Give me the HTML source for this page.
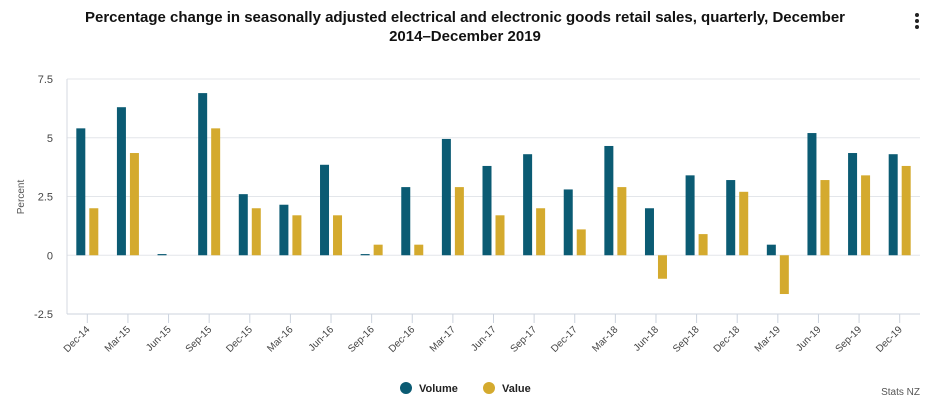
<!DOCTYPE html>
<html><head><meta charset="utf-8"><style>
body{margin:0;background:#fff;font-family:"Liberation Sans",sans-serif;}
#wrap{position:relative;width:930px;height:400px;overflow:hidden;}
.title{position:absolute;left:0;top:8px;width:930px;text-align:center;font-weight:bold;font-size:15px;color:#111;line-height:19px;}
</style></head><body>
<div id="wrap">
<div class="title">Percentage change in seasonally adjusted electrical and electronic goods retail sales, quarterly, December<br>2014–December 2019</div>
<div style="position:absolute;left:913px;top:12px;width:8px;height:20px;">
<div style="width:4px;height:4px;border-radius:2px;background:#222;margin:1px auto 2px"></div>
<div style="width:4px;height:4px;border-radius:2px;background:#222;margin:0 auto 2px"></div>
<div style="width:4px;height:4px;border-radius:2px;background:#222;margin:0 auto"></div></div>
<svg id="chart" width="930" height="400" style="position:absolute;left:0;top:0"></svg>
</div>
<script>
const categories=["Dec-14","Mar-15","Jun-15","Sep-15","Dec-15","Mar-16","Jun-16","Sep-16","Dec-16","Mar-17","Jun-17","Sep-17","Dec-17","Mar-18","Jun-18","Sep-18","Dec-18","Mar-19","Jun-19","Sep-19","Dec-19"];
const volumeValues=[5.4,6.3,0.05,6.9,2.6,2.15,3.85,0.05,2.9,4.95,3.8,4.3,2.8,4.65,2.0,3.4,3.2,0.45,5.2,4.35,4.3];
const valueValues=[2.0,4.35,0,5.4,2.0,1.7,1.7,0.45,0.45,2.9,1.7,2.0,1.1,2.9,-1.0,0.9,2.7,-1.65,3.2,3.4,3.8];
const yTicks=[-2.5,0,2.5,5,7.5];
const yTickLabels=["-2.5","0","2.5","5","7.5"];
const svg=document.getElementById('chart');
const NS='http://www.w3.org/2000/svg';
const L=67,R=920,T=79,B=314,ymin=-2.5,ymax=7.5;
const band=(R-L)/categories.length;
const y=v=>B-(v-ymin)/(ymax-ymin)*(B-T);
const xc=i=>L+band*(i+0.5);
function mk(tag,attrs,parent){const e=document.createElementNS(NS,tag);for(const k in attrs)e.setAttribute(k,attrs[k]);(parent||svg).appendChild(e);return e;}
yTicks.forEach((t,i)=>{
 const g=mk('line',{x1:L,x2:R,y1:y(t),y2:y(t),stroke:'#e3e6ea','stroke-width':1});
 
 
 const tx=mk('text',{x:L-14,y:y(t)+4,'text-anchor':'end','font-size':11,fill:'#444'});
 tx.textContent=yTickLabels[i];
 
 
});
const ax=mk('line',{x1:L,x2:L,y1:T,y2:B,stroke:'#d5dae2'});


const xa=mk('line',{x1:L,x2:R,y1:B,y2:B,stroke:'#ccd3de'});


const yt=mk('text',{x:24,y:197,'text-anchor':'middle','font-size':10,fill:'#555',transform:'rotate(-90 24 197)'});
yt.textContent='Percent';


categories.forEach((c,i)=>{
 const cx=xc(i);
 const tk=mk('line',{x1:cx,x2:cx,y1:B,y2:B+9,stroke:'#ccd3de'});
 
 
 const lb=mk('text',{x:cx+3,y:B+16,'text-anchor':'end','font-size':10,fill:'#444',transform:`rotate(-45 ${cx+3} ${B+16})`});
 lb.textContent=c;
 
 
 const v1=volumeValues[i],v2=valueValues[i];
 const b1=mk('rect',{x:cx-11,width:9,y:Math.min(y(v1),y(0)),height:Math.max(Math.abs(y(v1)-y(0)),1),fill:'#0b5b73'});
 
 
 const b2=mk('rect',{x:cx+2,width:9,y:Math.min(y(v2),y(0)),height:Math.abs(y(v2)-y(0)),fill:'#d4aa2e'});
 
 
});
[["Volume","#0b5b73",406],["Value","#d4aa2e",489]].forEach(([n,col,x0])=>{
 const g=mk('g',{});
 
 
 mk('circle',{cx:x0,cy:388,r:6,fill:col},g);
 const t=mk('text',{x:x0+13,y:392,'font-size':11,'font-weight':'bold',fill:'#222'},g);
 t.textContent=n;
});
const cr=mk('text',{x:920,y:395,'text-anchor':'end','font-size':10,fill:'#555'});
cr.textContent='Stats NZ';


</script>
</body></html>
